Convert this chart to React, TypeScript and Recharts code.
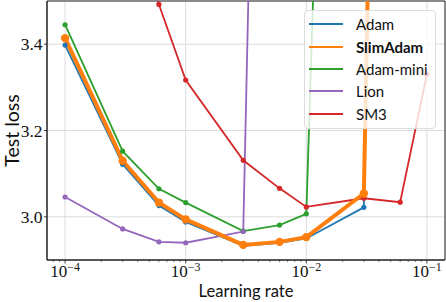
import React from 'react';
import { LineChart, Line, XAxis, YAxis, CartesianGrid, ReferenceArea } from 'recharts';

// learning rates swept (x axis, log scale)
const learningRates = [1e-4, 3e-4, 6e-4, 1e-3, 3e-3, 6e-3, 1e-2, 3e-2, 6e-2, 1e-1];

// test loss per optimizer, null = not run / diverged before
const adamLoss = [3.398, 3.122, 3.026, 2.988, 2.933, 2.940, 2.950, 3.022, 7.4, null];
const slimAdamLoss = [3.414, 3.130, 3.033, 2.994, 2.935, 2.942, 2.953, 3.054, 7.4, null];
const adamMiniLoss = [3.445, 3.152, 3.065, 3.033, 2.967, 2.981, 3.007, 7.25, null, null];
const lionLoss = [3.046, 2.972, 2.942, 2.940, 2.966, 6.8, null, null, null, null];
const sm3Loss = [null, 3.75, 3.492, 3.317, 3.131, 3.066, 3.023, 3.043, 3.034, 3.33];

const majorTicksX = [1e-4, 1e-3, 1e-2, 1e-1];
const ticksY = [3.0, 3.2, 3.4];

const xDomain = [Math.pow(10, -4.15), Math.pow(10, -0.85)];
const yDomain = [2.9, 3.5];

// minor log ticks between the decades
const minorTicksX: number[] = [];
[1e-5, 1e-4, 1e-3, 1e-2, 1e-1].forEach((d) => {
  for (let m = 2; m <= 9; m++) {
    const v = m * d;
    if (v > xDomain[0] && v < xDomain[1]) minorTicksX.push(v);
  }
});
const allTicksX = [...majorTicksX, ...minorTicksX].sort((a, b) => a - b);

const series = [
  { name: 'Adam', values: adamLoss, color: '#1f77b4', width: 1.8, r: 2.6, bold: false },
  { name: 'SlimAdam', values: slimAdamLoss, color: '#ff7f0e', width: 4, r: 4.2, bold: true },
  { name: 'Adam-mini', values: adamMiniLoss, color: '#2ca02c', width: 1.8, r: 2.6, bold: false },
  { name: 'Lion', values: lionLoss, color: '#9467bd', width: 1.8, r: 2.6, bold: false },
  { name: 'SM3', values: sm3Loss, color: '#d62728', width: 1.8, r: 2.6, bold: false },
];

// SlimAdam sits on top of the others
const drawOrder = ['Adam', 'Adam-mini', 'Lion', 'SM3', 'SlimAdam'];

const toPoints = (values: (number | null)[]) =>
  learningRates
    .map((lr, i) => ({ lr, loss: values[i] }))
    .filter((d) => d.loss !== null);

const SPINE = '#262626';

const XTick = (props: any) => {
  const { x, y, payload } = props;
  const exp = Math.log10(payload.value);
  const major = Math.abs(exp - Math.round(exp)) < 1e-6;
  return (
    <g>
      <line x1={x} x2={x} y1={y} y2={y + (major ? 3.5 : 2)} stroke={SPINE} strokeWidth={major ? 0.9 : 0.6} />
      {major && (
        <text x={x} y={y + 17} textAnchor="middle" fontFamily="Liberation Serif" fontSize={17} fill="#111">
          10
          <tspan dy={-6.5} fontSize={12}>
            {'\u2212' + Math.abs(Math.round(exp))}
          </tspan>
        </text>
      )}
    </g>
  );
};

const YLabel = (props: any) => {
  const vb = props.viewBox;
  const cx = vb.x + 19;
  const cy = vb.y + vb.height / 2;
  return (
    <text x={cx} y={cy} transform={`rotate(-90, ${cx}, ${cy})`} textAnchor="middle" fontFamily="Lato" fontSize={19.5} fill="#111">
      Test loss
    </text>
  );
};

const XLabel = (props: any) => {
  const vb = props.viewBox;
  return (
    <text x={vb.x + vb.width / 2} y={vb.y + 37} textAnchor="middle" fontFamily="Lato" fontSize={16.6} fill="#111">
      Learning rate
    </text>
  );
};

const App: React.FC = () => {
  return (
    <div style={{ position: 'absolute', left: 0, top: 0, width: 446, height: 302, background: '#fff' }}>
      <LineChart width={446} height={302} margin={{ top: 1, right: 1, bottom: 0, left: 0 }}>
        <CartesianGrid stroke="#dcdcdc" strokeWidth={1} xAxisId="grid" />
        {/* hidden axis, only used so the grid follows the decades */}
        <XAxis
          xAxisId="grid"
          dataKey="lr"
          type="number"
          scale="log"
          domain={xDomain}
          allowDataOverflow
          ticks={majorTicksX}
          hide
        />
        <XAxis
          dataKey="lr"
          type="number"
          scale="log"
          domain={xDomain}
          allowDataOverflow
          ticks={allTicksX}
          interval={0}
          height={42}
          tickSize={0}
          tickMargin={0}
          tickLine={false}
          tick={<XTick />}
          axisLine={{ stroke: SPINE, strokeWidth: 1 }}
          label={<XLabel />}
        />
        <YAxis
          type="number"
          domain={yDomain}
          allowDataOverflow
          ticks={ticksY}
          width={47}
          tickSize={3}
          tickMargin={1.5}
          tickFormatter={(v: number) => v.toFixed(1)}
          tick={{ fontFamily: 'Liberation Serif', fontSize: 17.5, fill: '#111' }}
          tickLine={{ stroke: SPINE, strokeWidth: 0.9 }}
          axisLine={{ stroke: SPINE, strokeWidth: 1 }}
          label={<YLabel />}
        />
        {drawOrder.map((name) => {
          const s = series.find((d) => d.name === name)!;
          return (
            <Line
              key={s.name}
              data={toPoints(s.values)}
              dataKey="loss"
              name={s.name}
              type="linear"
              stroke={s.color}
              strokeWidth={s.width}
              dot={{ r: s.r, fill: s.color, stroke: s.color, strokeWidth: 0 }}
              activeDot={false}
              isAnimationActive={false}
            />
          );
        })}
        <ReferenceArea
          x1={xDomain[0]}
          x2={xDomain[1]}
          y1={yDomain[0]}
          y2={yDomain[1]}
          fill="none"
          fillOpacity={0}
          stroke={SPINE}
          strokeWidth={1}
        />
      </LineChart>
      <div
        style={{
          position: 'absolute',
          left: 304,
          top: 10,
          width: 130,
          height: 115,
          background: 'rgba(255,255,255,0.8)',
          border: '1px solid #dcdcdc',
          borderRadius: 4,
          paddingTop: 2,
          boxSizing: 'content-box',
        }}
      >
        {series.map((s) => (
          <div key={s.name} style={{ display: 'flex', alignItems: 'center', height: 22.4 }}>
            <div style={{ marginLeft: 4, width: 34, height: 2, background: s.color }} />
            <span
              style={{
                marginLeft: 13,
                fontFamily: 'Lato',
                fontSize: 15,
                fontWeight: s.bold ? 700 : 400,
                color: '#111',
                lineHeight: '22px',
              }}
            >
              {s.name}
            </span>
          </div>
        ))}
      </div>
    </div>
  );
};

export default App;
